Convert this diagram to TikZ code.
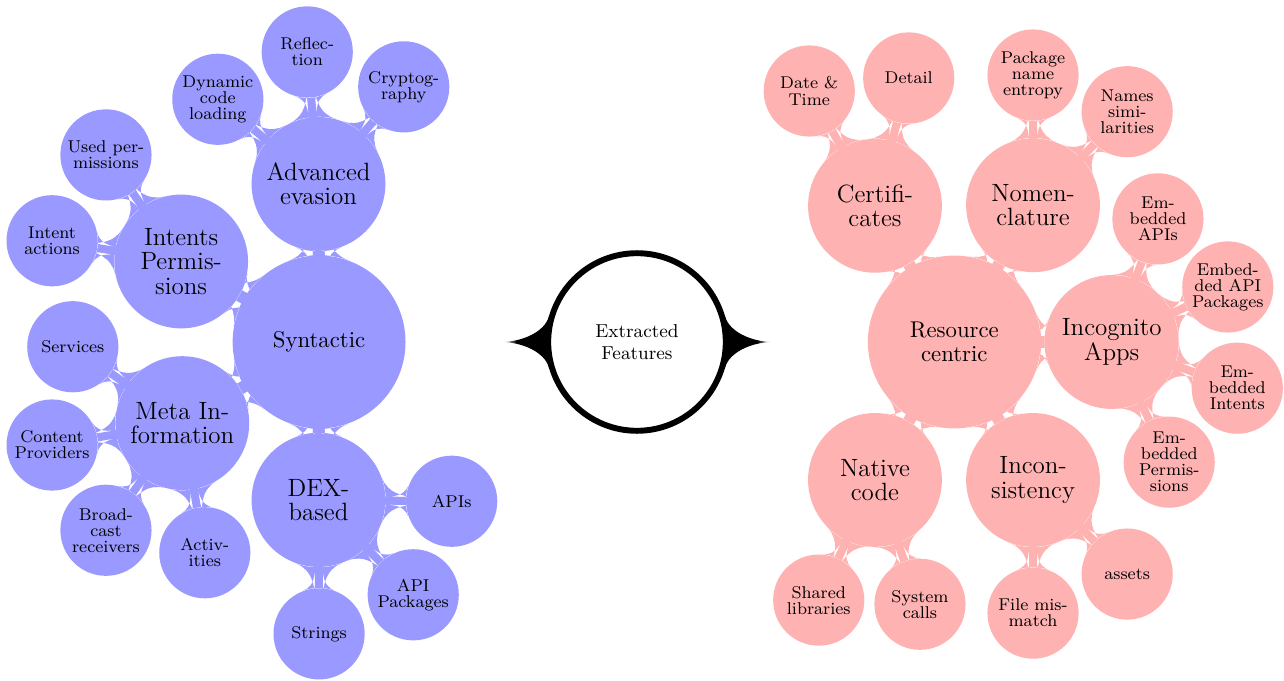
\documentclass[tikz,border=0pt]{standalone}
\usetikzlibrary{mindmap,backgrounds}

\colorlet{syncol}{blue!40}
\colorlet{rescol}{red!30}

\pgfdeclarehorizontalshading{hornright}{100bp}{color(0bp)=(black); color(60bp)=(black); color(75bp)=(white); color(100bp)=(white)}
\pgfdeclarehorizontalshading{hornleft}{100bp}{color(0bp)=(white); color(25bp)=(white); color(40bp)=(black); color(100bp)=(black)}

\tikzset{
  rootidea/.style={circle, draw=black, fill=white, line width=1mm, minimum size=3cm,
    inner sep=0pt, align=center, text=black, font=\fontsize{9}{10.6}\selectfont},
  bigidea/.style={circle, fill=#1, minimum size=2.92cm, inner sep=0pt, align=center,
    text=black, font=\fontsize{10.95}{11.6}\selectfont},
  mididea/.style={circle, fill=#1, minimum size=2.26cm, inner sep=0pt, align=center,
    text=black, font=\fontsize{12}{11.8}\selectfont},
  leafidea/.style={circle, fill=#1, minimum size=1.54cm, inner sep=0pt, align=center,
    text=black, font=\fontsize{8.2}{7.7}\selectfont},
  neck/.style={circle connection bar switch color=from (#1) to (#1)},
}

\begin{document}
\begin{tikzpicture}
\useasboundingbox (-10.760,-5.726) rectangle (10.929,5.777);

% Root concept
\node[rootidea] (root) at (0,0) {Extracted\\Features};
\coordinate (lefttip) at ([xshift=-0.72cm]root.west);
\coordinate (righttip) at ([xshift=0.72cm]root.east);

% Syntactic side
\node[bigidea=syncol] (syn) at (-5.37,0) {Syntactic};
\node[mididea=syncol] (adv) at (-5.38,2.67) {Advanced\\evasion};
\node[mididea=syncol] (intp) at (-7.70,1.36) {Intents\\Permis-\\sions};
\node[mididea=syncol] (meta) at (-7.68,-1.37) {Meta In-\\formation};
\node[mididea=syncol] (dex) at (-5.38,-2.67) {DEX-\\based};

\node[leafidea=syncol] (dyn) at (-7.08,4.10) {Dynamic\\code\\loading};
\node[leafidea=syncol] (refl) at (-5.57,4.90) {Reflec-\\tion};
\node[leafidea=syncol] (crypt) at (-3.94,4.31) {Cryptog-\\raphy};
\node[leafidea=syncol] (used) at (-8.97,3.16) {Used per-\\missions};
\node[leafidea=syncol] (intact) at (-9.88,1.71) {Intent\\actions};
\node[leafidea=syncol] (serv) at (-9.53,-0.08) {Services};
\node[leafidea=syncol] (cont) at (-9.88,-1.74) {Content\\Providers};
\node[leafidea=syncol] (broad) at (-8.97,-3.18) {Broad-\\cast\\receivers};
\node[leafidea=syncol] (activ) at (-7.30,-3.56) {Activ-\\ities};
\node[leafidea=syncol] (apis) at (-3.13,-2.69) {APIs};
\node[leafidea=syncol] (apipkg) at (-3.78,-4.27) {API\\Packages};
\node[leafidea=syncol] (strs) at (-5.37,-4.93) {Strings};

% Resource centric side
\node[bigidea=rescol] (res) at (5.36,0) {Resource\\centric};
\node[mididea=rescol] (cert) at (4.02,2.30) {Certifi-\\cates};
\node[mididea=rescol] (nomen) at (6.69,2.31) {Nomen-\\clature};
\node[mididea=rescol] (incog) at (8.02,0) {Incognito\\Apps};
\node[mididea=rescol] (native) at (4.02,-2.33) {Native\\code};
\node[mididea=rescol] (incons) at (6.69,-2.33) {Incon-\\sistency};

\node[leafidea=rescol] (date) at (2.91,4.24) {Date \&\\Time};
\node[leafidea=rescol] (detail) at (4.59,4.46) {Detail};
\node[leafidea=rescol] (pkgname) at (6.69,4.51) {Package\\name\\entropy};
\node[leafidea=rescol] (names) at (8.28,3.89) {Names\\simi-\\larities};
\node[leafidea=rescol] (eapis) at (8.80,2.08) {Em-\\bedded\\APIs};
\node[leafidea=rescol] (eapipkg) at (9.98,0.93) {Embed-\\ded API\\Packages};
\node[leafidea=rescol] (eint) at (10.14,-0.78) {Em-\\bedded\\Intents};
\node[leafidea=rescol] (eperm) at (8.99,-2.03) {Em-\\bedded\\Permis-\\sions};
\node[leafidea=rescol] (shared) at (3.07,-4.36) {Shared\\libraries};
\node[leafidea=rescol] (sysc) at (4.78,-4.43) {System\\calls};
\node[leafidea=rescol] (filem) at (6.69,-4.58) {File mis-\\match};
\node[leafidea=rescol] (assets) at (8.28,-3.92) {assets};

% Connections
\begin{scope}[on background layer]
  % horns of the root
  \path[shading=hornright] (root.16) .. controls +(0.07,-0.25) and +(-0.35,0.01) .. (righttip)
    .. controls +(-0.35,-0.01) and +(0.07,0.25) .. (root.-16) -- cycle;
  \path[shading=hornleft] (root.164) .. controls +(-0.07,-0.25) and +(0.35,0.01) .. (lefttip)
    .. controls +(0.35,-0.01) and +(-0.07,0.25) .. (root.196) -- cycle;
  \foreach \a/\b in {syn/adv, syn/intp, syn/meta, syn/dex,
      adv/dyn, adv/refl, adv/crypt, intp/used, intp/intact,
      meta/serv, meta/cont, meta/broad, meta/activ,
      dex/apis, dex/apipkg, dex/strs}
    \path (\a) to[neck=syncol] (\b);
  \foreach \a/\b in {res/cert, res/nomen, res/incog, res/native, res/incons,
      cert/date, cert/detail, nomen/pkgname, nomen/names,
      incog/eapis, incog/eapipkg, incog/eint, incog/eperm,
      native/shared, native/sysc, incons/filem, incons/assets}
    \path (\a) to[neck=rescol] (\b);
\end{scope}
\end{tikzpicture}
\end{document}
